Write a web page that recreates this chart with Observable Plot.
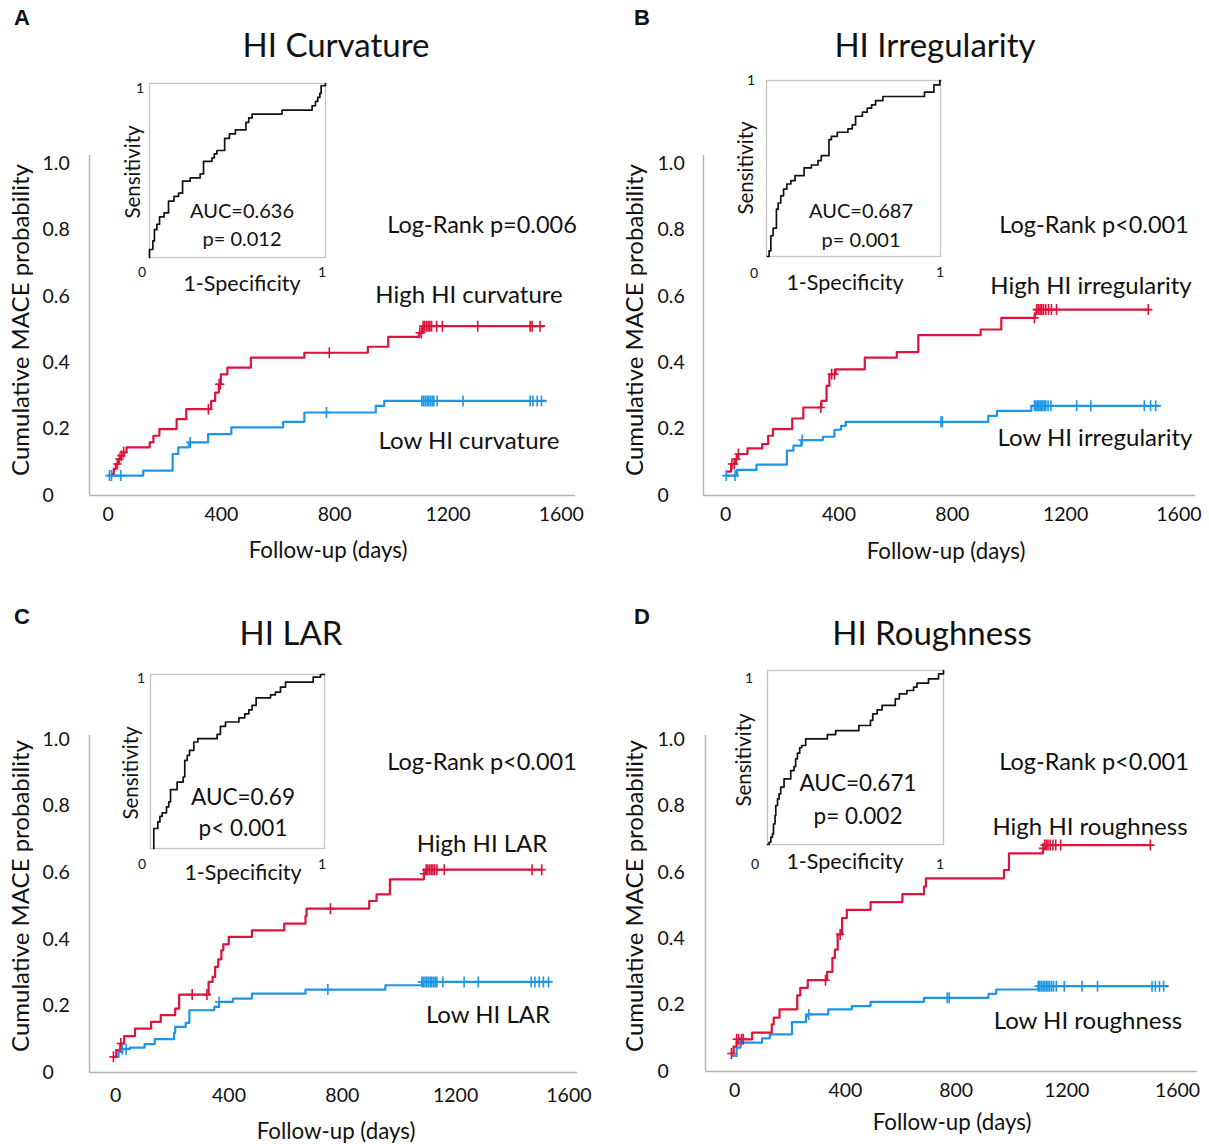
<!DOCTYPE html>
<html><head><meta charset="utf-8">
<script src="https://cdn.jsdelivr.net/npm/d3@7"></script>
<script src="https://cdn.jsdelivr.net/npm/@observablehq/plot@0.6"></script>
<style>
body{margin:0;background:#fff}
#fig{position:relative;width:1209px;height:1144px;background:#fff;font-family:Lato,"Open Sans",sans-serif;color:#111;overflow:hidden}
.t{position:absolute;white-space:nowrap;line-height:1;transform:translate(-50%,-50%)}
.t.r{transform:translate(-50%,-50%) rotate(-90deg)}
.pl{position:absolute;left:0;top:0}
</style></head><body><div id="fig"></div><script>
// ---------------- data ----------------
const xTicks = [0, 400, 800, 1200, 1600];
const yTicks = [0, 0.2, 0.4, 0.6, 0.8, 1.0];
const rocTickLabels = ["0", "1"];

const panelLetters = ["A", "B", "C", "D"];
const panelTitles = ["HI Curvature", "HI Irregularity", "HI LAR", "HI Roughness"];
const logRankLabels = ["Log-Rank p=0.006", "Log-Rank p<0.001", "Log-Rank p<0.001", "Log-Rank p<0.001"];
const highLabels = ["High HI curvature", "High HI irregularity", "High HI LAR", "High HI roughness"];
const lowLabels = ["Low HI curvature", "Low HI irregularity", "Low HI LAR", "Low HI roughness"];
const aucLabels = ["AUC=0.636", "AUC=0.687", "AUC=0.69", "AUC=0.671"];
const pLabels = ["p= 0.012", "p= 0.001", "p< 0.001", "p= 0.002"];
const yTitle = "Cumulative MACE probability";
const xTitle = "Follow-up (days)";
const rocYTitle = "Sensitivity";
const rocXTitle = "1-Specificity";

// Panel A – HI curvature
const aHighDay = [15, 20, 27, 35, 45, 55, 65, 147, 160, 181, 242, 276, 364, 378, 391, 398, 421, 504, 693, 917, 989, 1097, 1111, 1539];
const aHighCum = [0.065, 0.08, 0.095, 0.11, 0.12, 0.13, 0.145, 0.16, 0.18, 0.20, 0.23, 0.26, 0.285, 0.31, 0.335, 0.365, 0.385, 0.415, 0.43, 0.448, 0.478, 0.49, 0.51, 0.51];
const aHighCensor = [33, 40, 47, 55, 354, 392, 396, 781, 1100, 1106, 1112, 1118, 1124, 1130, 1136, 1142, 1160, 1180, 1305, 1490, 1497, 1525];
const aLowDay = [0, 124, 228, 248, 285, 353, 435, 618, 693, 945, 975, 1545];
const aLowCum = [0.06, 0.075, 0.125, 0.145, 0.16, 0.185, 0.205, 0.222, 0.25, 0.27, 0.285, 0.285];
const aLowCensor = [5, 12, 45, 290, 771, 1108, 1114, 1120, 1126, 1132, 1138, 1144, 1150, 1162, 1253, 1490, 1500, 1515, 1530];
const aRocFpr = [0, 0, 0.019, 0.028, 0.042, 0.057, 0.083, 0.108, 0.139, 0.165, 0.188, 0.231, 0.288, 0.307, 0.355, 0.368, 0.383, 0.427, 0.454, 0.488, 0.548, 0.564, 0.583, 0.753, 0.924, 0.943, 0.956, 0.968, 0.975, 1];
const aRocTpr = [0, 0.046, 0.095, 0.160, 0.191, 0.233, 0.256, 0.324, 0.351, 0.370, 0.439, 0.458, 0.481, 0.553, 0.573, 0.595, 0.615, 0.685, 0.710, 0.733, 0.777, 0.802, 0.824, 0.847, 0.872, 0.897, 0.920, 0.943, 0.987, 1];

// Panel B – HI irregularity
const bHighDay = [5, 19, 33, 44, 77, 129, 150, 167, 235, 274, 338, 356, 366, 388, 491, 604, 680, 900, 973, 1092, 1097, 1492];
const bHighCum = [0.072, 0.095, 0.11, 0.125, 0.142, 0.155, 0.18, 0.20, 0.232, 0.265, 0.285, 0.33, 0.365, 0.38, 0.415, 0.432, 0.483, 0.50, 0.535, 0.548, 0.56, 0.56];
const bHighCensor = [22, 30, 38, 45, 336, 374, 384, 1090, 1098, 1104, 1110, 1116, 1122, 1130, 1140, 1150, 1168, 1492];
const bLowDay = [0, 40, 109, 216, 239, 267, 343, 384, 407, 424, 927, 958, 1079, 1533];
const bLowCum = [0.06, 0.077, 0.093, 0.135, 0.15, 0.167, 0.177, 0.198, 0.21, 0.222, 0.24, 0.255, 0.27, 0.27];
const bLowCensor = [2, 33, 270, 760, 765, 1090, 1095, 1100, 1105, 1110, 1115, 1120, 1125, 1130, 1138, 1148, 1239, 1289, 1478, 1500, 1518];
const bRocFpr = [0.006, 0.015, 0.025, 0.038, 0.057, 0.067, 0.082, 0.098, 0.117, 0.140, 0.164, 0.216, 0.258, 0.296, 0.315, 0.359, 0.373, 0.407, 0.468, 0.493, 0.512, 0.551, 0.579, 0.604, 0.627, 0.669, 0.908, 0.962, 0.996, 1];
const bRocTpr = [0, 0.032, 0.118, 0.161, 0.269, 0.304, 0.345, 0.383, 0.412, 0.431, 0.459, 0.503, 0.520, 0.545, 0.573, 0.664, 0.683, 0.706, 0.725, 0.748, 0.797, 0.820, 0.843, 0.861, 0.886, 0.909, 0.934, 0.975, 1, 1];

// Panel C – HI LAR
const cHighDay = [-8, 2, 16, 30, 68, 125, 159, 210, 224, 328, 342, 351, 362, 373, 380, 399, 481, 595, 670, 674, 895, 921, 968, 1088, 1094, 1504];
const cHighCum = [0.047, 0.067, 0.087, 0.109, 0.132, 0.152, 0.172, 0.192, 0.234, 0.272, 0.287, 0.317, 0.34, 0.367, 0.385, 0.407, 0.427, 0.447, 0.47, 0.492, 0.515, 0.535, 0.58, 0.597, 0.609, 0.609];
const cHighCensor = [-8, 18, 270, 322, 758, 1088, 1096, 1102, 1108, 1114, 1120, 1126, 1134, 1160, 1470, 1504];
const cLowDay = [0, 10, 23, 50, 102, 138, 206, 210, 247, 260, 348, 365, 414, 481, 670, 952, 1081, 1528];
const cLowCum = [0.047, 0.062, 0.07, 0.075, 0.085, 0.10, 0.119, 0.137, 0.149, 0.187, 0.197, 0.212, 0.222, 0.237, 0.249, 0.262, 0.272, 0.272];
const cLowCensor = [23, 37, 365, 749, 1081, 1086, 1092, 1098, 1104, 1110, 1116, 1122, 1128, 1134, 1155, 1230, 1280, 1467, 1480, 1495, 1510, 1528];
const cRocFpr = [0.019, 0.019, 0.042, 0.054, 0.067, 0.092, 0.105, 0.115, 0.153, 0.188, 0.197, 0.211, 0.224, 0.249, 0.272, 0.383, 0.402, 0.431, 0.508, 0.542, 0.565, 0.584, 0.607, 0.690, 0.718, 0.747, 0.776, 0.935, 0.977, 1];
const cRocTpr = [0, 0.115, 0.153, 0.185, 0.205, 0.239, 0.268, 0.338, 0.382, 0.411, 0.507, 0.535, 0.564, 0.612, 0.631, 0.656, 0.702, 0.727, 0.751, 0.774, 0.797, 0.822, 0.866, 0.883, 0.899, 0.927, 0.956, 0.985, 1, 1];

// Panel D – HI roughness
const dHighDay = [-12, -4, 7, 63, 134, 141, 162, 226, 237, 264, 334, 353, 362, 372, 388, 405, 491, 606, 684, 691, 973, 991, 1114, 1120, 1502];
const dHighCum = [0.054, 0.075, 0.097, 0.117, 0.142, 0.162, 0.187, 0.229, 0.252, 0.275, 0.30, 0.342, 0.367, 0.413, 0.462, 0.487, 0.51, 0.534, 0.557, 0.582, 0.607, 0.657, 0.672, 0.682, 0.682];
const dHighCensor = [-12, 7, 14, 25, 31, 328, 381, 1114, 1120, 1126, 1132, 1140, 1150, 1160, 1178, 1502];
const dLowDay = [-7, 7, 21, 99, 127, 207, 258, 264, 338, 423, 491, 684, 917, 945, 1097, 1565];
const dLowCum = [0.047, 0.072, 0.087, 0.10, 0.112, 0.149, 0.167, 0.172, 0.187, 0.197, 0.21, 0.222, 0.234, 0.247, 0.257, 0.257];
const dLowCensor = [21, 268, 768, 775, 1097, 1102, 1108, 1114, 1120, 1126, 1132, 1138, 1145, 1152, 1162, 1191, 1255, 1311, 1508, 1520, 1535, 1550];
const dRocFpr = [0, 0.009, 0.019, 0.028, 0.034, 0.043, 0.047, 0.057, 0.066, 0.075, 0.094, 0.132, 0.151, 0.160, 0.170, 0.183, 0.194, 0.217, 0.340, 0.387, 0.519, 0.585, 0.598, 0.623, 0.651, 0.726, 0.749, 0.792, 0.830, 0.849, 0.915, 0.972, 1];
const dRocTpr = [0, 0.013, 0.042, 0.061, 0.119, 0.167, 0.224, 0.262, 0.291, 0.330, 0.377, 0.425, 0.448, 0.492, 0.525, 0.556, 0.569, 0.607, 0.632, 0.655, 0.684, 0.713, 0.751, 0.774, 0.799, 0.837, 0.866, 0.885, 0.904, 0.927, 0.952, 0.981, 1];

// ---------------- style / layout ----------------
const RED = "#dc143c", BLUE = "#1e96e6", AXIS = "#b4b4b4", INK = "#111";
const layout = [
  {qx:0, qy:0, qw:604, qh:572, axL:89, axR:575, axT:155, axB:495, ox:107.6, kx:0.28325, y1:163, yPad:47, xPad:12,
   roc:{l:149,t:83,r:325,b:257}, aucSize:20,
   pos:{letter:[22,18], title:[336,44], lr:[482,225], hi:[469,294], lo:[469,440], yt:[20,320], xt:[328,550],
        r1:[140,88], r0:[142,272], r1b:[322,272], sens:[132,172], spec:[242,284], auc:[242,210], p:[242,238]}},
  {qx:604, qy:0, qw:605, qh:572, axL:703, axR:1195, axT:155, axB:495, ox:725.2, kx:0.28325, y1:163, yPad:46, xPad:12,
   roc:{l:766,t:80,r:940,b:256}, aucSize:20,
   pos:{letter:[642,18], title:[935,44], lr:[1094,225], hi:[1091,285], lo:[1095,437], yt:[634,320], xt:[946,551],
        r1:[751,80], r0:[754,273], r1b:[940,272], sens:[745,168], spec:[845,283], auc:[861,210], p:[861,239]}},
  {qx:0, qy:572, qw:604, qh:572, axL:89, axR:577, axT:735, axB:1072, ox:115.2, kx:0.28325, y1:739, yPad:47, xPad:16,
   roc:{l:150,t:674,r:324,b:848}, aucSize:22.5,
   pos:{letter:[22,617], title:[291,632], lr:[482,762], hi:[482,843], lo:[488,1014], yt:[20,896], xt:[336,1131],
        r1:[141,678], r0:[142,864], r1b:[322,864], sens:[130,773], spec:[243,873], auc:[243,797], p:[243,828]}},
  {qx:604, qy:572, qw:605, qh:572, axL:705, axR:1197, axT:735, axB:1071, ox:734.2, kx:0.27675, y1:739, yPad:48, xPad:12,
   roc:{l:767,t:670,r:943,b:844}, aucSize:22.5,
   pos:{letter:[642,617], title:[932,632], lr:[1094,762], hi:[1090,826], lo:[1088,1020], yt:[634,896], xt:[952,1122],
        r1:[749,678], r0:[755,864], r1b:[940,864], sens:[743,760], spec:[845,862], auc:[858,783], p:[858,816]}}
];

const series = [
  {high:[aHighDay,aHighCum,aHighCensor], low:[aLowDay,aLowCum,aLowCensor], roc:[aRocFpr,aRocTpr]},
  {high:[bHighDay,bHighCum,bHighCensor], low:[bLowDay,bLowCum,bLowCensor], roc:[bRocFpr,bRocTpr]},
  {high:[cHighDay,cHighCum,cHighCensor], low:[cLowDay,cLowCum,cLowCensor], roc:[cRocFpr,cRocTpr]},
  {high:[dHighDay,dHighCum,dHighCensor], low:[dLowDay,dLowCum,dLowCensor], roc:[dRocFpr,dRocTpr]}
];

// ---------------- helpers ----------------
const fig = document.getElementById("fig");
const plusSymbol = {draw(ctx, size) {
  const r = Math.sqrt(size / Math.PI);
  ctx.moveTo(0, -r); ctx.lineTo(0, r);
  ctx.moveTo(-0.75 * r, 0); ctx.lineTo(0.75 * r, 0);
}};
function stepAt(days, cums, t) {
  let v = cums[0];
  for (let i = 0; i < days.length; i++) if (days[i] <= t) v = cums[i];
  return v;
}
function addText(txt, xy, size, opt = {}) {
  const d = document.createElement("div");
  d.className = "t" + (opt.rot ? " r" : "");
  d.textContent = txt;
  d.style.left = xy[0] + "px";
  d.style.top = xy[1] + "px";
  d.style.fontSize = size + "px";
  if (opt.bold) { d.style.fontWeight = "bold"; d.style.fontFamily = "'Liberation Sans', Arial, sans-serif"; }
  fig.appendChild(d);
}
function place(el, left, top) {
  el.classList.add("pl");
  el.style.left = left + "px";
  el.style.top = top + "px";
  el.style.position = "absolute";
  fig.appendChild(el);
}

// ---------------- draw ----------------
layout.forEach((L, i) => {
  const S = series[i];
  const xDom = [(L.axL - L.ox) / L.kx, (L.axR - L.ox) / L.kx];
  const yDom = [0, (L.axB - L.axT) / (L.axB - L.y1)];
  const toRows = ([day, cum]) => day.map((t, k) => ({t, v: cum[k]}));
  const toCens = ([day, cum, cens]) => cens.map(t => ({t, v: stepAt(day, cum, t)}));
  const km = Plot.plot({
    width: L.qw, height: L.qh,
    marginLeft: L.axL - L.qx, marginRight: L.qx + L.qw - L.axR,
    marginTop: L.axT - L.qy, marginBottom: L.qy + L.qh - L.axB,
    x: {domain: xDom}, y: {domain: yDom},
    style: {background: "transparent", fontFamily: "Lato, sans-serif", fontSize: "19.5px", color: INK, overflow: "visible"},
    marks: [
      Plot.ruleX([xDom[0]], {stroke: AXIS, strokeWidth: 1.4}),
      Plot.ruleY([0], {stroke: AXIS, strokeWidth: 1.4}),
      Plot.axisY({ticks: yTicks, tickSize: 0, tickPadding: L.yPad, textAnchor: "start", label: null,
                  tickFormat: d => d === 0 ? "0" : d.toFixed(1), fontSize: 19.5}),
      Plot.axisX({ticks: xTicks, tickSize: 0, tickPadding: L.xPad, label: null, tickFormat: d => String(d), fontSize: 19.5}),
      Plot.line(toRows(S.low), {x: "t", y: "v", curve: "step-after", stroke: BLUE, strokeWidth: 2.2}),
      Plot.line(toRows(S.high), {x: "t", y: "v", curve: "step-after", stroke: RED, strokeWidth: 2.2}),
      Plot.dot(toCens(S.low), {x: "t", y: "v", symbol: plusSymbol, r: 5.5, fill: "none", stroke: BLUE, strokeWidth: 1.6}),
      Plot.dot(toCens(S.high), {x: "t", y: "v", symbol: plusSymbol, r: 5.5, fill: "none", stroke: RED, strokeWidth: 1.6})
    ]
  });
  place(km, L.qx, L.qy);

  const R = L.roc;
  const roc = Plot.plot({
    width: R.r - R.l, height: R.b - R.t, margin: 0,
    x: {domain: [0, 1], axis: null}, y: {domain: [0, 1], axis: null},
    style: {background: "transparent", overflow: "visible"},
    marks: [
      Plot.frame({stroke: "#c4c4c4", strokeWidth: 1.3}),
      Plot.line(S.roc[0].map((f, k) => ({f, s: S.roc[1][k]})), {x: "f", y: "s", curve: "step-after", stroke: INK, strokeWidth: 1.7})
    ]
  });
  place(roc, R.l, R.t);

  const P = L.pos;
  addText(panelLetters[i], P.letter, 22, {bold: true});
  addText(panelTitles[i], P.title, 33);
  addText(logRankLabels[i], P.lr, 23.5);
  addText(highLabels[i], P.hi, 24);
  addText(lowLabels[i], P.lo, 24);
  addText(yTitle, P.yt, 24, {rot: true});
  addText(xTitle, P.xt, 22.3);
  addText(rocTickLabels[1], P.r1, 14);
  addText(rocTickLabels[0], P.r0, 14);
  addText(rocTickLabels[1], P.r1b, 14);
  addText(rocYTitle, P.sens, 20.5, {rot: true});
  addText(rocXTitle, P.spec, 21.5);
  addText(aucLabels[i], P.auc, L.aucSize);
  addText(pLabels[i], P.p, L.aucSize);
});
</script></body></html>
